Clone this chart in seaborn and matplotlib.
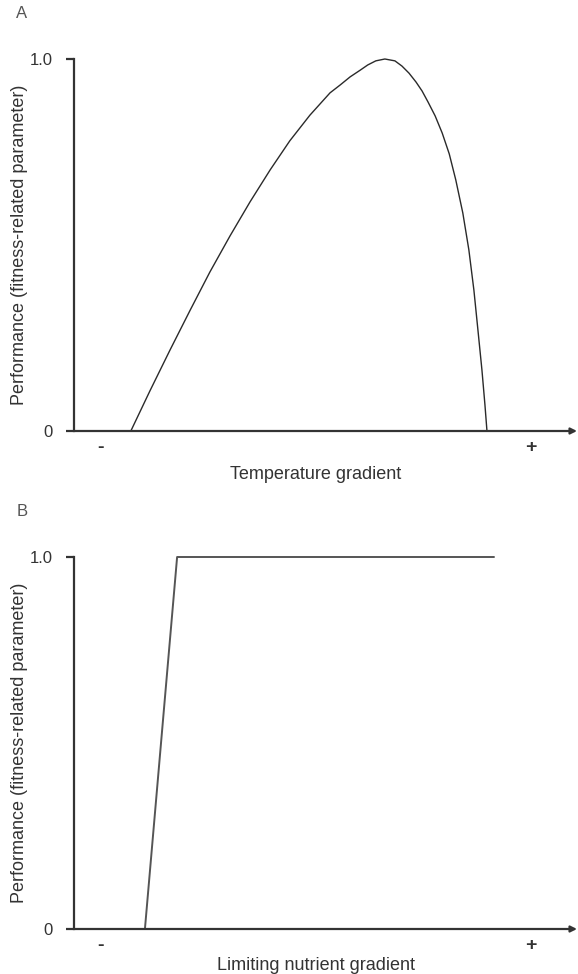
import numpy as np
import pandas as pd
import matplotlib
matplotlib.use("Agg")
import matplotlib.pyplot as plt
import seaborn as sns

# DATA (x: position along gradient, 0-100 ; y: relative performance)
temp_x = [11.3, 15.1, 19.1, 23.1, 27.0, 31.0, 35.0, 39.0, 42.9, 46.9, 50.9, 52.9, 54.9, 56.9, 58.4, 60.0,
          61.8, 63.8, 65.2, 66.6, 68.0, 69.2, 70.4, 71.8, 73.2, 74.6, 75.9, 77.3, 78.5, 79.5, 80.3,
          81.1, 81.7, 82.1]
temp_y = [0.0, 0.108, 0.218, 0.325, 0.427, 0.524, 0.616, 0.702, 0.780, 0.849, 0.909, 0.930, 0.952, 0.970,
          0.984, 0.995, 1.0, 0.995, 0.981, 0.962, 0.938, 0.914, 0.884, 0.847, 0.801, 0.745, 0.675,
          0.586, 0.487, 0.379, 0.272, 0.164, 0.070, 0.0]
nutr_x = [14.1, 20.5, 83.5]
nutr_y = [0.0, 1.0, 1.0]
gradient_ticks = [5.2, 90.8]
gradient_labels = ["-", "+"]
y_ticks = [0, 1.0]
y_ticklabels = ["0", "1.0"]
panel_letters = ["A", "B"]
x_titles = ["Temperature gradient", "Limiting nutrient gradient"]
y_title = "Performance (fitness-related parameter)"

sns.set_style("white")
plt.rcParams["font.family"] = ["Liberation Sans", "DejaVu Sans"]

W, H = 578, 974
fig = plt.figure(figsize=(W / 100, H / 100), dpi=100)
AX_COL = "#333333"
TXT_COL = "#333333"

# axes boxes in pixels: left, top, right, bottom
boxes = [(74, 59, 577, 431), (74, 557, 577, 929)]
title_gap = [43, 36]
series = [(temp_x, temp_y, "#2a2a2a", 1.0), (nutr_x, nutr_y, "#555555", 1.4)]

for i, (l, t, r, b) in enumerate(boxes):
    ax = fig.add_axes([l / W, 1 - b / H, (r - l) / W, (b - t) / H])
    xs, ys, col, lw = series[i]
    df = pd.DataFrame({"x": xs, "y": ys})
    sns.lineplot(data=df, x="x", y="y", ax=ax, color=col, lw=lw, sort=False,
                 estimator=None, clip_on=False, solid_joinstyle="round")
    ax.set_xlim(0, 100)
    ax.set_ylim(0, 1)
    for s in ["top", "right", "bottom"]:
        ax.spines[s].set_visible(False)
    ax.spines["left"].set_color(AX_COL)
    ax.spines["left"].set_linewidth(1.6)
    # x axis with arrow
    ax.annotate("", xy=(100, 0), xytext=(0, 0), xycoords="data",
                arrowprops=dict(arrowstyle="-|>", color=AX_COL, lw=1.6,
                                mutation_scale=9, shrinkA=0, shrinkB=0),
                annotation_clip=False)
    ax.set_yticks(y_ticks, y_ticklabels)
    ax.tick_params(axis="y", direction="out", length=5.5, width=1.6, color=AX_COL,
                   labelsize=12, labelcolor=TXT_COL, pad=10, left=True)
    ax.set_xticks(gradient_ticks, gradient_labels)
    ax.tick_params(axis="x", length=0, labelsize=14, labelcolor=TXT_COL, pad=6)
    for lab in ax.get_xticklabels():
        lab.set_fontweight("bold")
    ax.set_xlabel("")
    ax.set_ylabel("")
    # axis titles
    fig.text(316 / W, 1 - (b + title_gap[i]) / H, x_titles[i], ha="center", va="center",
             fontsize=13, color=TXT_COL)
    fig.text(20 / W, 1 - (t + b) / 2 / H, y_title, ha="center", va="center",
             rotation=90, fontsize=13, color=TXT_COL)
    fig.text(22 / W, 1 - (t - 45) / H, panel_letters[i], ha="center", va="center",
             fontsize=12, color="#555555", fontweight="light")

fig.savefig("out.png", dpi=100)
